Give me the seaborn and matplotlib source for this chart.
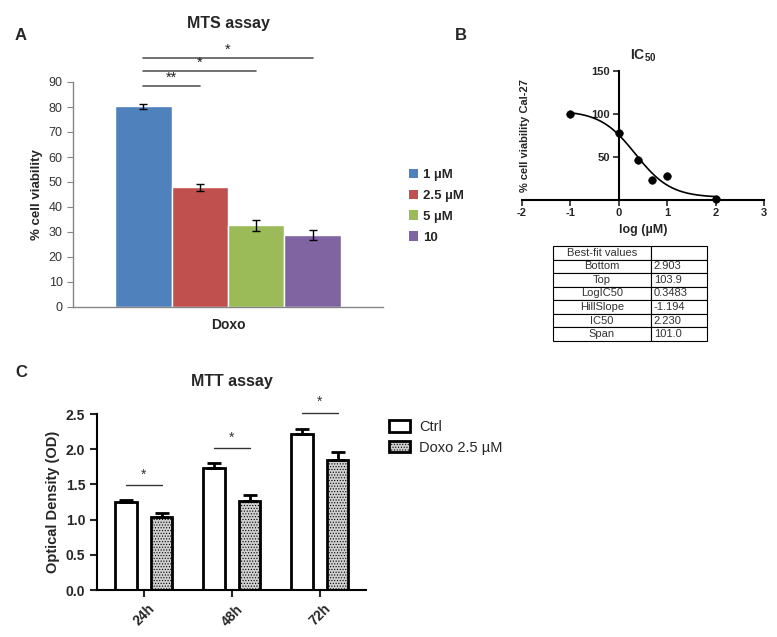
import numpy as np
import pandas as pd
import matplotlib
matplotlib.use("Agg")
import matplotlib.pyplot as plt
from matplotlib.patches import Patch
import seaborn as sns

sns.set_style("white")
plt.rcParams['font.family'] = ['Liberation Sans', 'DejaVu Sans']
plt.rcParams['axes.unicode_minus'] = False
plt.rcParams['mathtext.fontset'] = 'custom'
plt.rcParams['mathtext.rm'] = 'Liberation Sans'
plt.rcParams['mathtext.bf'] = 'Liberation Sans:bold'
plt.rcParams['hatch.linewidth'] = 0.5

# panel A - MTS assay
mts_doses = ['1 µM', '2.5 µM', '5 µM', '10']
mts_viability = [80.3, 47.8, 32.6, 28.7]
mts_err = [0.9, 1.4, 2.2, 1.9]
mts_colors = ['#4F81BD', '#C0504D', '#9BBB59', '#8064A2']

# panel B - IC50
ic50_logconc = [-1.0, 0.0, 0.39, 0.69, 1.0, 2.0]
ic50_viability = [100, 78, 47, 23, 28, 1]
fit_bottom, fit_top, fit_logic50, fit_hill = 2.903, 103.9, 0.3483, -1.194
table_names = ['Bottom', 'Top', 'LogIC50', 'HillSlope', 'IC50', 'Span']
table_values = ['2.903', '103.9', '0.3483', '-1.194', '2.230', '101.0']

# panel C - MTT assay
mtt_times = ['24h', '48h', '72h']
mtt_ctrl = [1.25, 1.74, 2.22]
mtt_ctrl_err = [0.03, 0.06, 0.07]
mtt_doxo = [1.03, 1.27, 1.85]
mtt_doxo_err = [0.06, 0.08, 0.11]

fig = plt.figure(figsize=(7.77, 6.37), dpi=100)

# ---------------- A ----------------
axA = fig.add_axes([73/777, 1-307/637, 310/777, 225/637])
dfA = pd.DataFrame({'group': ['Doxo']*4, 'dose': mts_doses, 'value': mts_viability})
sns.barplot(data=dfA, x='group', y='value', hue='dose', palette=mts_colors,
            errorbar=None, width=0.8, saturation=1, ax=axA, legend=False)
centers = [p.get_x() + p.get_width()/2 for p in axA.patches][:4]
axA.errorbar(centers, mts_viability, yerr=mts_err, fmt='none', ecolor='black',
             elinewidth=1, capsize=3, capthick=1)
axA.set_xlim(-0.55, 0.55)
axA.set_ylim(0, 90)
axA.set_yticks(range(0, 91, 10))
axA.set_xticks([0])
axA.set_xticklabels(['Doxo'], fontweight='bold', fontsize=10)
axA.set_xticks([-0.55, 0.55], minor=True)
axA.tick_params(axis='x', which='major', length=0, pad=8)
axA.tick_params(axis='x', which='minor', length=4, color='#868686', direction='out')
axA.tick_params(axis='y', length=4, color='#868686', direction='out', labelsize=9,
                labelcolor='#333333', left=True)
axA.set_xlabel('')
axA.set_ylabel('% cell viability', fontweight='bold', fontsize=9.5)
for s in ['top', 'right']:
    axA.spines[s].set_visible(False)
for s in ['left', 'bottom']:
    axA.spines[s].set_color('#868686')
    axA.spines[s].set_linewidth(1)
axA.set_title('MTS assay', fontweight='bold', fontsize=11.5, pad=39)

sigA = [(centers[1], 88.4, '**'), (centers[2], 94.4, '*'), (centers[3], 99.6, '*')]
for x2, yy, star in sigA:
    axA.plot([centers[0], x2], [yy, yy], color='#595959', lw=1.2, clip_on=False)
    axA.text((centers[0]+x2)/2, yy+0.5, star, ha='center', va='bottom', fontsize=10.5,
             color='#222222')

handlesA = [Patch(facecolor=c, edgecolor='none') for c in mts_colors]
fig.legend(handlesA, mts_doses, loc='upper left',
           bbox_to_anchor=(397/777, 1-157/637), frameon=False,
           handlelength=0.7, handleheight=0.7, handletextpad=0.4,
           labelspacing=0.65, prop={'weight': 'bold', 'size': 9.5})

# ---------------- B ----------------
axB = fig.add_axes([521.7/777, 1-200/637, 242.3/777, 129/637])
xfit = np.linspace(-1, 2, 200)
yfit = fit_bottom + (fit_top - fit_bottom)/(1 + 10**((fit_logic50 - xfit)*fit_hill))
axB.plot(xfit, yfit, color='black', lw=1.2)
sns.scatterplot(x=ic50_logconc, y=ic50_viability, color='black', s=30,
                edgecolor='black', ax=axB, zorder=5, clip_on=False)
axB.set_xlim(-2, 3)
axB.set_ylim(0, 150)
axB.spines['left'].set_position(('data', 0))
axB.spines['bottom'].set_position(('data', 0))
for s in ['top', 'right']:
    axB.spines[s].set_visible(False)
for s in ['left', 'bottom']:
    axB.spines[s].set_color('black')
    axB.spines[s].set_linewidth(1.5)
axB.set_xticks(range(-2, 4))
axB.set_yticks([50, 100, 150])
axB.tick_params(axis='both', length=4, width=1.2, direction='out', labelsize=8,
                left=True, bottom=True, pad=2)
for lab in axB.get_xticklabels() + axB.get_yticklabels():
    lab.set_fontweight('bold')
axB.set_xlabel('log (µM)', fontweight='bold', fontsize=9)
axB.set_ylabel('% cell viability Cal-27', fontweight='bold', fontsize=8)
axB.yaxis.set_label_coords(0.035, 0.5)
axB.set_title(r'$\mathbf{IC_{50}}$', fontsize=10, pad=8)

axT = fig.add_axes([553/777, 1-341/637, 154/777, 95/637])
axT.axis('off')
cells = [['Best-fit values', '']] + [[n, v] for n, v in zip(table_names, table_values)]
tbl = axT.table(cellText=cells, bbox=[0, 0, 1, 1], colWidths=[0.636, 0.364],
                cellLoc='center')
tbl.auto_set_font_size(False)
tbl.set_fontsize(8)
for (r, c), cell in tbl.get_celld().items():
    cell.set_linewidth(0.8)
    cell.get_text().set_color('#333333')
    if c == 1:
        cell.get_text().set_horizontalalignment('left')
        cell._loc = 'left'
        cell.PAD = 0.05

# ---------------- C ----------------
axC = fig.add_axes([97/777, 1-590/637, 269/777, 176/637])
dfC = pd.DataFrame({'time': mtt_times*2,
                    'group': ['Ctrl']*3 + ['Doxo 2.5 µM']*3,
                    'od': mtt_ctrl + mtt_doxo})
sns.barplot(data=dfC, x='time', y='od', hue='group', errorbar=None, width=0.8,
            gap=0.38, palette=['white', '#cfcfcf'], saturation=1,
            edgecolor='black', linewidth=2, ax=axC, legend=False)
bars = axC.patches[:6]
for p in bars[3:]:
    p.set_hatch('......')
xs = [p.get_x() + p.get_width()/2 for p in bars]
vals = mtt_ctrl + mtt_doxo
errs = mtt_ctrl_err + mtt_doxo_err
axC.errorbar(xs, vals, yerr=[np.zeros(6), errs], fmt='none', ecolor='black',
             elinewidth=2, capsize=5, capthick=2, zorder=1)
axC.set_xlim(-0.534, 2.523)
axC.set_ylim(0, 2.5)
axC.set_yticks(np.arange(0, 2.51, 0.5))
axC.set_yticklabels([f'{v:.1f}' for v in np.arange(0, 2.51, 0.5)])
axC.tick_params(axis='both', length=5, width=1.5, direction='out', labelsize=10,
                left=True, bottom=True)
axC.set_xticks(range(3))
axC.set_xticklabels(mtt_times, rotation=45, ha='center', va='top')
for lab in axC.get_xticklabels() + axC.get_yticklabels():
    lab.set_fontweight('bold')
for s in ['top', 'right']:
    axC.spines[s].set_visible(False)
for s in ['left', 'bottom']:
    axC.spines[s].set_color('black')
    axC.spines[s].set_linewidth(1.5)
axC.set_xlabel('')
axC.set_ylabel('Optical Density (OD)', fontweight='bold', fontsize=10.5)
axC.set_title('MTT assay', fontweight='bold', fontsize=11.5, pad=20)

sigC = [1.49, 2.01, 2.52]
for i, yy in enumerate(sigC):
    axC.plot([xs[i], xs[i+3]], [yy, yy], color='#333333', lw=1, clip_on=False)
    axC.text((xs[i]+xs[i+3])/2, yy+0.05, '*', ha='center', va='bottom', fontsize=10,
             color='#333333')

handlesC = [Patch(facecolor='white', edgecolor='black', lw=2),
            Patch(facecolor='#cfcfcf', edgecolor='black', lw=2, hatch='......')]
fig.legend(handlesC, ['Ctrl', 'Doxo 2.5 µM'], loc='upper left',
           bbox_to_anchor=(376/777, 1-407/637), frameon=False,
           handlelength=1.45, handleheight=0.85, handletextpad=0.6,
           labelspacing=0.45, prop={'size': 10.5})

fig.text(21/777, 1-35/637, 'A', fontweight='bold', fontsize=12, ha='center', va='center')
fig.text(461/777, 1-35/637, 'B', fontweight='bold', fontsize=12, ha='center', va='center')
fig.text(21/777, 1-372/637, 'C', fontweight='bold', fontsize=12, ha='center', va='center')

fig.savefig('out.png', dpi=100)
